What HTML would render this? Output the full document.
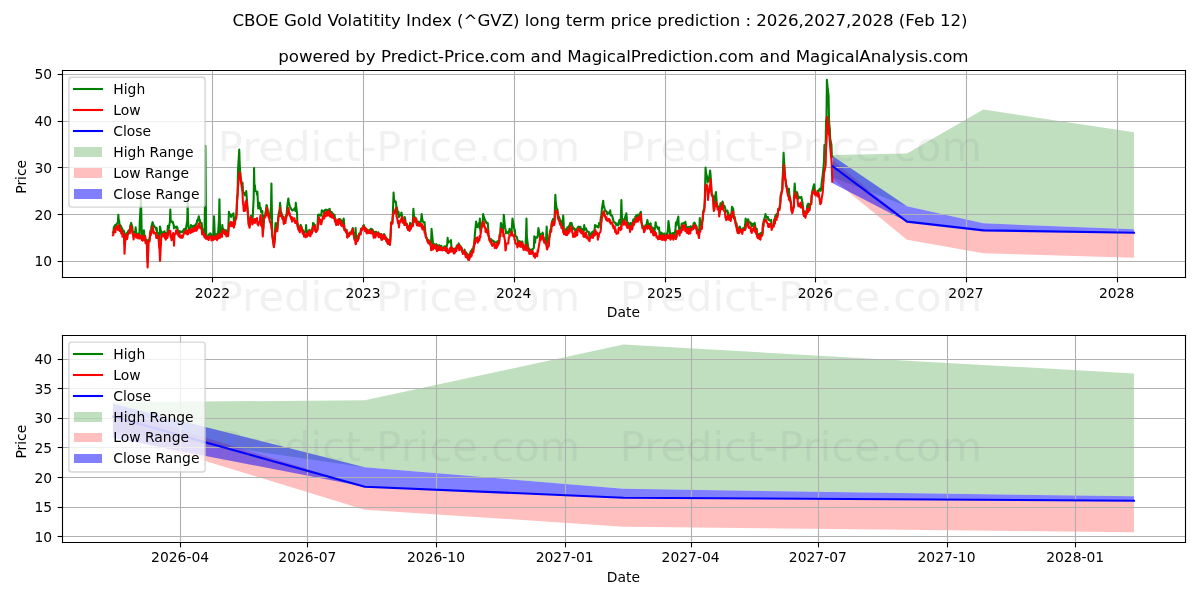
<!DOCTYPE html>
<html><head><meta charset="utf-8"><title>CBOE Gold Volatitity Index (^GVZ) long term price prediction</title>
<style>html,body{margin:0;padding:0;background:#fff;overflow:hidden}svg{display:block}text{font-family:"DejaVu Sans","Liberation Sans",sans-serif}</style>
</head><body>
<svg width="1200" height="600" viewBox="0 0 1200 600">
<defs>
<style type="text/css">*{stroke-linejoin: round; stroke-linecap: butt}</style>
</defs>
<g id="figure_1">
<g id="patch_1">
<path d="M0 600L1200 600L1200 0L0 0z" style="fill: #ffffff"/>
</g>
<g id="axes_1">
<g id="patch_2">
<path d="M62 277L1185 277L1185 70L62 70z" style="fill: #ffffff"/>
</g>
<g id="FillBetweenPolyCollection_1">
<path d="M832.69 154.95L832.69 177.6L906.97 206.28L983.32 223.37L1133.95 229.3L1133.95 132.31L1133.95 132.31L983.32 109.42L906.97 153.41L832.69 154.95z" clip-path="url(#p3a8a4bb195)" style="fill: #008000; fill-opacity: 0.25"/>
</g>
<g id="FillBetweenPolyCollection_2">
<path d="M832.69 160.33L832.69 179L906.97 239.81L983.32 253.26L1133.95 257.69L1133.95 232.71L1133.95 232.71L983.32 230.37L906.97 221.64L832.69 160.33z" clip-path="url(#p3a8a4bb195)" style="fill: #ff0000; fill-opacity: 0.25"/>
</g>
<g id="FillBetweenPolyCollection_3">
<path d="M832.69 156.12L832.69 183.21L906.97 221.64L983.32 230.37L1133.95 232.71L1133.95 229.3L1133.95 229.3L983.32 223.37L906.97 206.28L832.69 156.12z" clip-path="url(#p3a8a4bb195)" style="fill: #0000ff; fill-opacity: 0.5"/>
</g>
<g id="matplotlib.axis_1">
<g id="xtick_1">
<g id="line2d_1">
<path d="M212.5 277.5L212.5 70.5" clip-path="url(#p3a8a4bb195)" style="fill: none; stroke: #b0b0b0; stroke-width: 1.111111; stroke-linecap: square"/>
</g>
<g id="line2d_2">
<g>
<path d="M212.5 277.5L212.5 282.36" style="stroke: #000000; stroke-width: 1.111111"/>
</g>
</g>
<g id="text_1">
<text style="font-size: 13.888889px; font-family: 'DejaVu Sans', 'Liberation Sans', sans-serif; text-anchor: middle" x="212.41" y="297.61">2022</text>
</g>
</g>
<g id="xtick_2">
<g id="line2d_3">
<path d="M363.5 277.5L363.5 70.5" clip-path="url(#p3a8a4bb195)" style="fill: none; stroke: #b0b0b0; stroke-width: 1.111111; stroke-linecap: square"/>
</g>
<g id="line2d_4">
<g>
<path d="M363.5 277.5L363.5 282.36" style="stroke: #000000; stroke-width: 1.111111"/>
</g>
</g>
<g id="text_2">
<text style="font-size: 13.888889px; font-family: 'DejaVu Sans', 'Liberation Sans', sans-serif; text-anchor: middle" x="363.04" y="297.61">2023</text>
</g>
</g>
<g id="xtick_3">
<g id="line2d_5">
<path d="M514.5 277.5L514.5 70.5" clip-path="url(#p3a8a4bb195)" style="fill: none; stroke: #b0b0b0; stroke-width: 1.111111; stroke-linecap: square"/>
</g>
<g id="line2d_6">
<g>
<path d="M514.5 277.5L514.5 282.36" style="stroke: #000000; stroke-width: 1.111111"/>
</g>
</g>
<g id="text_3">
<text style="font-size: 13.888889px; font-family: 'DejaVu Sans', 'Liberation Sans', sans-serif; text-anchor: middle" x="513.68" y="297.61">2024</text>
</g>
</g>
<g id="xtick_4">
<g id="line2d_7">
<path d="M665.5 277.5L665.5 70.5" clip-path="url(#p3a8a4bb195)" style="fill: none; stroke: #b0b0b0; stroke-width: 1.111111; stroke-linecap: square"/>
</g>
<g id="line2d_8">
<g>
<path d="M665.5 277.5L665.5 282.36" style="stroke: #000000; stroke-width: 1.111111"/>
</g>
</g>
<g id="text_4">
<text style="font-size: 13.888889px; font-family: 'DejaVu Sans', 'Liberation Sans', sans-serif; text-anchor: middle" x="664.72" y="297.61">2025</text>
</g>
</g>
<g id="xtick_5">
<g id="line2d_9">
<path d="M815.5 277.5L815.5 70.5" clip-path="url(#p3a8a4bb195)" style="fill: none; stroke: #b0b0b0; stroke-width: 1.111111; stroke-linecap: square"/>
</g>
<g id="line2d_10">
<g>
<path d="M815.5 277.5L815.5 282.36" style="stroke: #000000; stroke-width: 1.111111"/>
</g>
</g>
<g id="text_5">
<text style="font-size: 13.888889px; font-family: 'DejaVu Sans', 'Liberation Sans', sans-serif; text-anchor: middle" x="815.35" y="297.61">2026</text>
</g>
</g>
<g id="xtick_6">
<g id="line2d_11">
<path d="M966.5 277.5L966.5 70.5" clip-path="url(#p3a8a4bb195)" style="fill: none; stroke: #b0b0b0; stroke-width: 1.111111; stroke-linecap: square"/>
</g>
<g id="line2d_12">
<g>
<path d="M966.5 277.5L966.5 282.36" style="stroke: #000000; stroke-width: 1.111111"/>
</g>
</g>
<g id="text_6">
<text style="font-size: 13.888889px; font-family: 'DejaVu Sans', 'Liberation Sans', sans-serif; text-anchor: middle" x="965.98" y="297.61">2027</text>
</g>
</g>
<g id="xtick_7">
<g id="line2d_13">
<path d="M1117.5 277.5L1117.5 70.5" clip-path="url(#p3a8a4bb195)" style="fill: none; stroke: #b0b0b0; stroke-width: 1.111111; stroke-linecap: square"/>
</g>
<g id="line2d_14">
<g>
<path d="M1117.5 277.5L1117.5 282.36" style="stroke: #000000; stroke-width: 1.111111"/>
</g>
</g>
<g id="text_7">
<text style="font-size: 13.888889px; font-family: 'DejaVu Sans', 'Liberation Sans', sans-serif; text-anchor: middle" x="1116.62" y="297.61">2028</text>
</g>
</g>
<g id="text_8">
<text style="font-size: 13.888889px; font-family: 'DejaVu Sans', 'Liberation Sans', sans-serif; text-anchor: middle" x="623.45" y="317.17">Date</text>
</g>
</g>
<g id="matplotlib.axis_2">
<g id="ytick_1">
<g id="line2d_15">
<path d="M62.5 261.5L1185.5 261.5" clip-path="url(#p3a8a4bb195)" style="fill: none; stroke: #b0b0b0; stroke-width: 1.111111; stroke-linecap: square"/>
</g>
<g id="line2d_16">
<g>
<path d="M62.5 261.5L57.64 261.5" style="stroke: #000000; stroke-width: 1.111111"/>
</g>
</g>
<g id="text_9">
<text style="font-size: 13.888889px; font-family: 'DejaVu Sans', 'Liberation Sans', sans-serif; text-anchor: end" x="52.18" y="266.23">10</text>
</g>
</g>
<g id="ytick_2">
<g id="line2d_17">
<path d="M62.5 214.5L1185.5 214.5" clip-path="url(#p3a8a4bb195)" style="fill: none; stroke: #b0b0b0; stroke-width: 1.111111; stroke-linecap: square"/>
</g>
<g id="line2d_18">
<g>
<path d="M62.5 214.5L57.64 214.5" style="stroke: #000000; stroke-width: 1.111111"/>
</g>
</g>
<g id="text_10">
<text style="font-size: 13.888889px; font-family: 'DejaVu Sans', 'Liberation Sans', sans-serif; text-anchor: end" x="52.18" y="219.53">20</text>
</g>
</g>
<g id="ytick_3">
<g id="line2d_19">
<path d="M62.5 167.5L1185.5 167.5" clip-path="url(#p3a8a4bb195)" style="fill: none; stroke: #b0b0b0; stroke-width: 1.111111; stroke-linecap: square"/>
</g>
<g id="line2d_20">
<g>
<path d="M62.5 167.5L57.64 167.5" style="stroke: #000000; stroke-width: 1.111111"/>
</g>
</g>
<g id="text_11">
<text style="font-size: 13.888889px; font-family: 'DejaVu Sans', 'Liberation Sans', sans-serif; text-anchor: end" x="52.18" y="172.83">30</text>
</g>
</g>
<g id="ytick_4">
<g id="line2d_21">
<path d="M62.5 121.5L1185.5 121.5" clip-path="url(#p3a8a4bb195)" style="fill: none; stroke: #b0b0b0; stroke-width: 1.111111; stroke-linecap: square"/>
</g>
<g id="line2d_22">
<g>
<path d="M62.5 121.5L57.64 121.5" style="stroke: #000000; stroke-width: 1.111111"/>
</g>
</g>
<g id="text_12">
<text style="font-size: 13.888889px; font-family: 'DejaVu Sans', 'Liberation Sans', sans-serif; text-anchor: end" x="52.18" y="126.13">40</text>
</g>
</g>
<g id="ytick_5">
<g id="line2d_23">
<path d="M62.5 74.5L1185.5 74.5" clip-path="url(#p3a8a4bb195)" style="fill: none; stroke: #b0b0b0; stroke-width: 1.111111; stroke-linecap: square"/>
</g>
<g id="line2d_24">
<g>
<path d="M62.5 74.5L57.64 74.5" style="stroke: #000000; stroke-width: 1.111111"/>
</g>
</g>
<g id="text_13">
<text style="font-size: 13.888889px; font-family: 'DejaVu Sans', 'Liberation Sans', sans-serif; text-anchor: end" x="52.18" y="79.43">50</text>
</g>
</g>
<g id="text_14">
<text style="font-size: 13.888889px; font-family: 'DejaVu Sans', 'Liberation Sans', sans-serif; text-anchor: middle" x="26" y="176.81" transform="rotate(-90 26 176.81)">Price</text>
</g>
</g>
<g id="line2d_25">
<path d="M112.95 232.68L113.37 232.83L113.78 227.58L115.02 225.15L115.43 228.16L115.84 225.4L116.25 227.48L116.67 223.75L117.9 222.58L118.32 214.77L118.73 219.97L119.14 220.8L119.56 224.56L120.79 225.81L121.21 227.37L121.62 227.5L122.03 228.27L122.44 230.81L123.68 230.59L124.1 231.08L124.51 243.46L124.92 245.1L125.33 235.64L126.57 233.21L126.98 236.32L127.4 235.44L127.81 232.27L128.22 230.98L129.46 229.76L129.87 231.97L130.29 225.32L130.7 225.76L131.11 222.92L132.35 227.07L132.76 233.15L133.17 233.38L133.59 236.72L134 232.06L135.24 231.43L135.65 227.37L136.48 236.06L136.89 233.37L138.13 235.95L138.54 235.52L138.95 233.25L139.36 235.9L139.78 221.59L141.02 199.2L141.84 238.99L142.25 235.52L142.67 235.35L143.9 230.34L144.32 234.81L144.73 238.07L145.14 235.89L145.56 241.5L146.79 239.97L147.62 262.39L148.03 253.54L148.44 240.34L149.68 238.52L150.09 233.15L150.51 230.43L150.92 233.31L151.33 227L152.57 222.18L153.4 224.82L153.81 225.45L154.22 226.27L155.46 227.76L155.87 227.54L156.29 230.04L156.7 228.11L157.11 232.8L158.35 233.25L158.76 238.41L159.17 245.94L159.59 239.38L160 226.63L161.65 234.09L162.06 232.24L162.48 233.72L162.89 232.25L164.13 232.56L164.54 231.3L164.95 235.63L165.36 232.79L165.78 236.79L167.02 234.8L167.43 231.93L167.84 225.89L168.25 230.44L168.67 229.42L169.9 221.61L170.32 209.58L170.73 222.07L171.14 221.82L171.55 221.11L172.79 221.79L173.21 223.67L173.62 224.41L174.03 228.33L174.44 226.4L175.68 227.27L176.09 226.92L176.51 228.14L176.92 226.63L177.33 227.44L178.57 234.98L178.98 231.18L179.4 233.24L179.81 231.08L180.22 231.92L181.46 232.17L181.87 231.53L182.28 232.1L182.7 231.68L183.11 230.79L184.35 228.85L184.76 229.99L185.17 229.29L185.59 231.95L186 228.09L187.24 220.36L187.65 202.17L188.06 220.21L188.48 227.03L188.89 230.89L190.13 227.45L190.54 228.76L190.95 225.15L191.36 226.05L191.78 225.84L193.01 227.25L193.43 225.81L193.84 226.37L194.25 225.87L194.67 225.89L195.9 224.12L196.32 224.1L196.73 223.21L197.14 220.19L197.55 221.65L198.79 216.25L199.21 219.24L199.62 219.5L200.44 222.74L201.68 222.92L202.09 228.71L202.51 228.91L203.33 231.59L204.57 236.01L204.98 198.1L205.4 145.83L205.81 200.37L206.22 233.91L207.46 237.1L207.87 237.29L208.28 236.95L208.7 237.48L209.11 234.25L210.35 233.3L211.17 234.63L211.59 239.41L212 235.53L213.24 238.36L214.06 216.25L214.89 238.02L216.13 234.26L216.54 235.6L216.95 237.85L217.36 233.61L217.78 237.12L219.01 219.68L219.43 199.2L219.84 221.39L220.25 234.81L220.66 232.7L221.9 231.03L222.32 225.15L222.73 229.04L223.14 228.82L223.55 229.22L224.79 232.24L225.2 230.29L225.62 233.5L226.03 230.21L226.44 234.15L227.68 232.99L228.09 234.56L228.92 211.81L229.33 213.96L230.57 214.3L230.98 216.9L231.39 215.16L231.81 215.63L232.22 214.79L233.46 213.29L233.87 220.85L234.28 223.3L234.7 223.45L235.11 219.4L236.35 215.44L236.76 204.68L237.17 197.72L237.59 193.64L238 170.87L239.24 149.54L239.65 162.13L240.06 170.7L240.89 179.08L242.12 185.97L242.54 182.9L242.95 190.69L243.36 192.24L243.78 192.95L245.01 195.34L245.43 192.92L245.84 195.12L246.25 191.05L248.73 223.72L249.14 223.43L249.55 226.27L250.79 215.78L251.2 219.25L251.62 217.74L252.03 218.65L252.44 222.6L253.68 198.01L254.09 168.07L254.51 191.23L254.92 185.33L255.33 190.55L256.57 191.35L256.98 194.6L257.39 191.79L258.22 208.46L259.46 202.75L259.87 208.8L260.28 207.45L260.7 207.75L261.11 212.24L262.35 211.06L262.76 225.32L263.17 229.39L263.58 223.71L264 216.15L265.24 216.14L265.65 211.91L266.06 210.39L266.47 205.13L266.89 205.72L268.12 212.71L268.54 216.18L268.95 213.67L269.36 217.91L269.78 218.68L271.01 206.97L271.43 183.64L272.25 234.44L273.9 246L274.73 238.6L275.14 228.08L275.55 222.92L276.79 224.76L277.2 229.78L277.62 225.72L278.44 215.32L279.68 209.33L280.09 202.91L280.51 208.19L280.92 215.34L281.33 212.48L282.57 217.06L282.98 217.07L283.39 216.71L283.81 223.1L284.22 220.5L285.46 220.95L285.87 215.74L286.28 216.31L286.7 213.46L287.11 207.48L288.35 198.46L288.76 201.97L289.17 204.08L290 206.64L291.24 208.91L291.65 209.93L292.06 210.32L292.47 210.47L294.12 209.1L294.54 208.35L294.95 209.26L295.36 210.95L295.77 202.91L297.01 212.88L297.43 224.78L297.84 223.75L298.25 227.85L298.66 227.81L299.9 230.98L300.31 225.37L300.73 224.77L301.14 227.3L301.55 226.68L302.79 231.88L303.2 230.22L303.62 231.53L304.03 235.46L304.44 232.56L305.68 231.68L306.09 225.15L306.5 231.03L306.92 231.7L307.33 235.19L308.57 230.9L308.98 234.3L309.39 229.87L309.81 230.15L310.22 234.77L311.46 230.88L311.87 232.97L312.28 228.06L312.7 227.33L313.11 222.92L314.35 224.9L314.76 224.61L315.17 229.91L315.58 229.82L316 231.58L317.23 229.48L317.65 223.25L318.06 214.77L318.47 216.23L318.89 214.6L320.12 215L320.54 214.86L320.95 215.79L321.36 215.17L321.77 210.32L323.43 211.71L323.84 211L324.25 213.24L324.66 210.2L325.9 209.58L326.31 211.05L326.73 209.99L327.14 209.91L327.55 210.66L328.79 210.9L329.2 209.26L329.62 208.84L330.44 212.3L331.68 212.06L332.09 212.88L332.5 214.36L332.92 213.55L333.33 214.59L334.57 214.77L334.98 218.57L335.39 218.55L335.81 222.57L336.22 224.3L337.46 222.73L337.87 219.78L338.28 224.49L338.69 220.95L339.11 218.94L340.35 219.22L340.76 220.05L341.17 224.9L341.58 220.63L342 225.55L343.23 221.99L343.65 218.48L344.06 222.41L344.47 229.44L344.88 228.86L346.12 232.15L346.54 229.79L346.95 232.75L347.36 237.18L347.77 233.85L349.01 235.37L349.42 232.53L349.84 233.87L350.25 233.62L350.66 233.9L351.9 230.07L352.31 229.6L352.73 228.07L353.14 231.89L353.55 233.96L354.79 239.59L355.2 235.04L355.61 228.11L356.03 237.21L356.44 239.51L357.68 240.28L358.09 235.73L358.5 238.1L358.92 234.08L359.33 233.4L360.57 233.95L360.98 228.86L361.39 230.61L361.81 228.4L362.22 229.22L363.46 225.47L363.87 225.15L364.28 227.4L364.69 227.11L365.11 230.87L366.34 228.6L366.76 232.87L367.17 229.82L367.58 232.51L368 230.26L369.23 232.39L369.65 229.81L370.06 231.22L370.47 230.63L370.88 228.85L372.12 229.31L372.54 230.91L372.95 230.22L373.36 232.39L373.77 233L375.01 231.84L375.42 233.86L375.84 231.82L376.25 231.83L376.66 234.57L377.9 233.24L378.31 232.32L378.73 236.56L379.14 233.69L379.55 233.89L380.79 237.37L381.2 233.94L381.61 239.1L382.03 235.96L382.44 239.2L383.68 234.34L384.09 234.04L384.5 234.63L384.92 238.21L385.33 236.43L386.57 241.31L386.98 238.52L387.39 239.77L387.8 243.49L388.22 239.78L389.46 240.47L389.87 244.63L390.28 240.05L390.69 233.81L391.11 222.28L392.34 222.95L392.76 216.21L393.58 192.53L394 199.13L395.23 202.15L395.65 201.47L396.06 203.16L396.47 209.37L396.88 207.36L398.12 214.6L398.53 211.79L398.95 217.09L399.36 214.61L399.77 215.91L401.01 214.46L401.42 212.55L402.25 216.48L402.66 222.23L403.9 220.44L404.31 221.31L404.73 216.99L405.14 218.43L405.55 224.21L406.79 223.7L407.2 227.24L407.61 225.29L408.03 229.51L408.44 229.15L409.68 227.25L410.09 222.92L410.92 228.22L411.33 223.83L412.57 225.67L412.98 218.33L413.39 208.84L413.8 213.58L414.22 220.91L415.46 217.53L415.87 221.08L416.28 218.6L416.69 223.76L417.11 224.42L418.34 221.59L418.76 224.92L419.17 222.39L419.58 225.33L419.99 223.66L421.23 219.41L421.65 214.03L422.47 220.15L422.88 221.63L424.12 222.85L424.53 222.18L425.36 232.74L425.77 235.92L427.01 238.14L427.42 240.26L427.84 240.16L428.25 242.02L428.66 239.99L429.9 243.44L430.31 241.72L430.72 243.48L431.14 241.1L431.55 228.85L432.79 240.77L433.2 248.48L433.61 243.92L434.03 244L434.44 244.42L436.09 245.39L436.5 244.15L436.92 246.03L437.33 245.32L438.57 246.83L438.98 245.23L439.39 245.16L439.8 245.53L440.22 247.88L441.45 245.9L442.28 249.4L442.69 249.24L443.11 248.72L444.34 246.38L444.76 249.16L445.17 247.37L445.58 246.27L445.99 250.47L447.23 243.68L447.65 237.75L448.06 242.92L448.47 241.11L448.88 242.19L450.12 241.35L450.53 241.81L450.95 239.97L451.36 246.31L451.77 247.25L453.01 250.71L453.42 248.87L453.84 252.56L454.25 248.64L454.66 252.31L455.9 247.99L456.31 249.83L456.72 245.98L457.14 245.23L457.55 246.56L458.79 243.4L459.2 248.88L459.61 245.11L460.03 248.46L460.44 246.15L461.68 247.89L462.09 251.1L462.5 250.78L462.91 252.9L463.33 252.6L464.57 249.66L464.98 253.7L465.39 251.72L465.8 256.32L466.22 252.51L467.45 256.79L467.87 254.38L468.28 259.23L468.69 255.95L469.1 258.62L470.34 252.3L470.76 251.09L471.17 251.37L471.58 254.5L471.99 249.31L473.23 251.24L473.64 246.04L474.06 245.69L474.88 234.33L476.12 221.44L476.53 224.97L476.95 226.95L477.36 227.07L477.77 226.18L479.01 222.82L479.42 227.93L479.83 218.48L480.25 229.24L480.66 232.08L481.9 223.64L482.31 222.65L482.72 220.71L483.14 214.03L483.55 216.16L485.2 220.46L485.61 222.28L486.03 221.44L486.44 223.14L487.68 222.92L488.09 226.78L488.5 235.57L488.91 235.47L489.33 239.09L490.56 240.82L490.98 239.05L491.39 241.81L491.8 239.97L492.22 241.06L493.45 240.89L493.87 241.5L494.28 241.43L494.69 242.84L495.1 242.46L496.34 242.2L496.76 242.69L497.17 245.04L497.58 241.17L497.99 244L499.23 240.95L499.64 234.46L500.06 233.83L500.47 230.28L500.88 222.92L502.12 226.84L502.53 230.39L502.95 229.32L503.36 226.97L503.77 214.77L505.01 227.2L505.42 228.73L505.83 233.41L506.25 231.52L506.66 231.82L508.31 233.68L508.72 231.17L509.14 232.55L509.55 228.85L510.79 232.04L511.2 231.48L511.61 230.33L512.02 225.84L512.44 218.48L514.09 227.57L514.5 231.15L514.91 230.31L515.33 235.8L516.56 236.6L516.98 237.73L517.39 239.23L517.8 241.21L518.22 244.84L519.45 241.17L519.87 245.18L520.28 244.89L520.69 241.59L521.1 244.5L522.34 241.57L522.75 244.73L523.17 245.25L523.58 248.27L523.99 246.54L525.23 247.87L525.64 243.61L526.06 234.26L526.47 218.48L526.88 236.86L528.53 250.31L528.95 248.23L529.36 252.75L529.77 250.61L531.01 249.61L531.42 249.5L531.83 252.64L532.25 250.54L532.66 249.33L533.9 247.54L534.31 236.27L534.72 241.19L535.14 242.67L535.55 237.2L536.79 237.32L537.2 237.73L537.61 237.05L538.44 228.11L539.68 235.11L540.09 236.75L540.5 239.09L540.91 234.11L541.33 235.65L542.56 232.56L542.98 233.51L543.39 238.64L543.8 237.5L544.21 241.32L545.45 239.49L545.87 243.62L546.69 226.63L547.1 239.39L548.34 243.97L548.75 244.15L549.17 238.19L549.58 235.75L549.99 231.38L551.23 227.44L551.64 223.67L552.06 221.16L552.47 224.79L552.88 219.07L554.12 223.48L554.53 221.42L554.94 205.8L555.36 194.76L555.77 202.79L557.01 210.14L557.42 209.12L557.83 214.43L558.25 217.02L558.66 216.22L559.9 219.5L560.31 222.8L560.72 220.84L561.14 222.56L561.55 226.7L562.79 220.95L563.2 215.51L563.61 222.04L564.02 232.01L564.44 229.84L565.67 232.39L566.09 229.29L566.5 228.64L566.91 230.7L567.33 227.37L568.56 227.99L568.98 226.05L569.39 225.39L569.8 225.9L570.21 223.12L571.45 222.92L571.87 224.18L572.28 226.32L572.69 226.65L573.1 228.95L574.34 228.39L574.75 230.01L575.17 229.42L575.58 230.34L575.99 229.21L577.23 232.41L577.64 227.24L578.06 227.78L578.47 226.51L578.88 226.63L580.12 228.21L580.53 226.94L580.94 231.06L581.36 230.57L581.77 228.96L583.01 229.74L583.42 233.42L584.25 225.15L584.66 229.71L585.9 228.3L586.31 229.96L586.72 230.2L587.13 231.53L587.55 231.8L588.79 231.82L589.2 235.19L589.61 237.61L590.02 234.87L591.67 232.56L592.09 234.06L592.5 231.86L592.91 236.46L593.32 231.95L594.56 230.03L594.98 225.15L595.39 225.3L595.8 226.84L596.21 225.66L597.45 226.6L597.86 227.19L598.28 227.5L598.69 227.24L599.1 222.92L600.34 222.82L600.75 217.84L601.17 215.7L601.58 212.6L601.99 208.15L603.23 200.69L603.64 206.85L604.05 206.31L604.88 210.15L606.12 211.06L606.53 211.74L606.94 213.47L607.36 214.29L607.77 212.41L609.01 213.03L609.42 212.38L609.83 213.3L610.25 210.32L610.66 215.34L611.9 215.36L612.31 216.34L613.55 221.61L614.78 222.34L615.2 222.92L615.61 224.33L616.02 223.27L616.44 225.28L617.67 224.47L618.09 225.26L618.5 222.79L618.91 222.01L619.32 219.96L620.56 224.64L620.98 214.55L621.39 199.95L621.8 213.11L622.21 222.37L623.45 219.24L623.86 223.25L624.28 219.31L624.69 220.9L625.1 217.33L626.34 213.29L626.75 217.47L627.17 224.5L627.58 225.53L627.99 222.49L629.23 226.15L629.64 223.67L630.05 230.57L630.47 224.77L630.88 222.92L632.12 225.42L632.53 225.69L632.94 221.28L633.36 219.37L633.77 223.92L635.01 219.68L635.42 216.48L635.83 218.48L636.24 215.26L636.66 215.3L637.9 219.78L638.31 214.44L638.72 218.46L639.13 217.57L639.55 214.99L640.78 211.7L641.61 221.92L642.44 225.4L643.67 227.53L644.09 230.68L644.5 227.24L644.91 229.42L645.32 225.47L646.56 224.71L646.97 221.84L647.39 219.96L647.8 222.18L648.21 225.22L649.45 224.15L649.86 226.32L650.28 226.38L650.69 223.36L651.1 228.96L652.34 227.36L652.75 227.66L653.17 231.35L653.99 233.21L655.23 226.71L655.64 222.18L656.05 224.5L656.47 226.04L656.88 226.65L658.12 228.93L658.53 228.01L658.94 227.37L659.36 231L659.77 237.34L661.01 232.6L661.42 238.21L661.83 233.31L662.24 236.56L662.66 233.42L663.9 236.42L664.31 233.51L664.72 238.1L665.13 235.68L665.55 238.61L666.78 233.41L667.2 236.08L668.02 228.27L668.43 221L670.5 236.74L670.91 233.8L671.32 233.6L672.56 233.13L672.97 233.93L673.39 238.3L673.8 232.92L674.21 236.02L675.45 229.71L675.86 222.48L676.28 225.64L676.69 223.92L677.1 221.54L678.34 216.55L678.75 225.45L679.58 232.54L679.99 227.89L681.23 227.73L681.64 223.96L682.47 223.39L682.88 223.76L684.53 222.51L684.94 223.3L685.36 221.74L685.77 224.85L687.01 230.11L687.42 227.48L687.83 231.22L688.24 226.86L688.66 232.16L689.89 226.72L690.31 229.63L690.72 226.33L691.13 227.9L691.55 227.71L692.78 226.15L693.2 227.53L693.61 223.35L694.02 225.27L694.43 222.48L695.67 225.19L696.09 227.49L696.5 226.2L696.91 231L697.32 229.58L698.56 232.68L698.97 236.79L699.8 218.03L700.21 225.16L701.45 224.66L701.86 226.58L702.28 220.09L702.69 219.12L703.1 211.77L704.34 207.7L704.75 201.35L705.58 167.63L705.99 173.15L707.23 176.99L707.64 182.43L708.05 179.49L708.47 181L708.88 180.89L710.12 170.59L710.53 174.63L710.94 180.69L711.35 188.71L711.77 194.17L713.01 195.96L713.42 201.55L713.83 208.82L714.24 208.99L714.66 198.82L715.89 192.09L716.31 196.87L716.72 203.57L717.13 204.49L717.54 207.22L718.78 206.74L719.2 214.89L719.61 210.04L720.02 207.58L720.43 203.21L721.67 203.32L722.08 204.01L722.5 201.62L722.91 202.47L723.32 205.31L724.56 206.09L724.97 207.08L725.8 211.22L726.21 211.52L727.45 210.62L727.86 214.78L728.27 212.48L728.69 217.67L729.1 214.76L730.34 216.66L730.75 218.92L731.16 214L731.58 212.17L731.99 206.91L733.23 208.78L733.64 216.52L734.05 217.29L734.47 216.44L734.88 217.89L736.12 225.55L736.53 223.35L736.94 229.04L737.35 227.83L737.77 232.09L739 231.66L739.42 226.79L739.83 226.63L740.66 229.04L741.89 229.61L742.31 232.09L742.72 229.45L743.54 227.78L744.78 228.25L745.2 224.23L745.61 218.48L746.43 225.25L747.67 219.95L748.08 219.22L748.5 220.21L748.91 222.45L749.32 222.77L750.56 222.4L750.97 224.39L751.8 226.48L752.21 223.67L753.45 225.63L753.86 224.3L754.27 223.43L754.69 222.92L755.1 225.67L756.34 233.05L756.75 228.76L757.16 235.77L757.58 235.89L757.99 236.46L759.23 233.78L759.64 238.11L760.05 236L760.46 237.21L760.88 233.1L762.12 234.89L762.53 232.33L762.94 223.82L763.35 225.71L763.77 220.19L765 217.2L765.42 214.03L766.24 216.8L766.66 217.64L767.89 216.99L768.31 219.67L768.72 219.13L769.54 220.48L770.78 220.66L771.19 219.96L771.61 225.22L772.02 227.79L772.43 226.03L773.67 225.79L774.08 220.63L774.5 219.02L774.91 223.04L775.32 215.74L776.56 214.03L776.97 214.53L777.39 215.87L777.8 213.46L778.21 208.68L779.45 208.77L779.86 205.14L780.27 203.38L780.69 195.12L781.1 193.94L782.34 188.67L783.58 152.86L785.23 179.23L785.64 179.32L786.05 185.59L786.46 185.09L786.88 188.01L788.12 194.44L788.53 191.98L788.94 188.67L789.35 194.97L789.77 196.2L791 203.18L791.42 209.27L791.83 207.99L792.24 212.16L792.65 209.96L793.89 205.96L794.31 190L794.72 183.44L795.13 190.88L795.54 191.43L796.78 195.14L797.19 192.4L797.61 194.89L798.02 195.92L798.43 198.63L799.67 197.21L800.08 197.72L800.5 197.96L800.91 197.64L801.32 196.87L802.56 202.97L802.97 206.92L803.38 212.38L803.8 214.57L804.21 211.18L805.45 216.67L805.86 211.31L806.69 213.37L807.1 206.01L808.34 203.59L809.16 208.46L809.58 209.24L809.99 203.96L811.23 203.31L811.64 195.35L812.05 194.45L812.46 190.69L812.88 188.8L814.11 184.19L814.53 186.8L814.94 193.41L815.35 193.13L815.77 193.91L817 193.93L817.42 190.85L817.83 195.58L818.24 191.33L819.89 188.67L820.3 190.62L820.72 190.81L821.13 189.5L821.54 183.77L822.78 174.49L823.19 170.02L823.61 166.84L824.02 159.53L824.43 145.1L825.67 144.79L826.08 120.33L826.5 116.51L826.91 79.72L827.32 84.97L828.56 95.42L828.97 118.12L829.38 125.97L829.8 128.24L830.21 138.82L831.45 144.65L831.86 156.07L832.27 156.59L832.27 156.59" clip-path="url(#p3a8a4bb195)" style="fill: none; stroke: #008000; stroke-width: 2.083333; stroke-linecap: square"/>
</g>
<g id="line2d_26">
<path d="M112.95 235.21L113.37 234.81L113.78 231.29L115.02 228.47L115.43 232.25L115.84 227.2L116.25 229.05L116.67 226.5L117.9 229.88L118.32 225.22L118.73 228.98L119.14 225.37L119.56 230.91L120.79 229.11L121.21 233.48L121.62 230.39L122.03 231.31L122.44 236.75L123.68 233.62L124.1 237.64L124.51 253.79L125.33 238.54L126.57 234.91L126.98 239.26L127.4 237.17L127.81 233.82L128.22 234.07L129.46 230.98L129.87 233.29L130.29 227.6L130.7 229.71L131.11 225.94L132.76 234.21L133.17 234.54L133.59 239.38L134 234.72L135.24 236.18L135.65 233.96L136.06 236.9L136.48 237.65L136.89 234.59L138.13 238.38L138.54 237.96L138.95 234.4L139.36 238.09L139.78 238.56L141.02 236.06L141.43 235.72L141.84 240.03L142.25 237.02L142.67 240.72L143.9 235.59L144.32 239.82L144.73 240.04L145.14 237.2L145.56 243.19L146.79 241.44L147.62 267.5L148.03 256.45L148.44 242.15L149.68 241.16L150.09 234.55L150.51 232.15L150.92 235.09L151.33 232.23L152.57 226.78L152.98 228.06L153.4 232.84L153.81 231.39L154.22 233.55L155.46 232.84L155.87 233.85L156.29 237.98L156.7 234.55L157.11 237.93L158.35 235.95L158.76 239.72L159.17 247.75L159.59 249.88L160 260.86L161.24 238.18L161.65 235.38L162.06 234.21L162.48 236.23L162.89 234.03L164.13 236.71L164.54 233.64L164.95 238.12L165.36 234.09L165.78 239.66L167.02 236.56L167.43 237.95L167.84 233.07L168.25 235.45L168.67 230.52L169.9 231.6L170.32 230.9L170.73 237.53L171.14 235.76L171.55 240.27L172.79 234.29L173.21 233.06L173.62 235.95L174.03 245.65L174.44 235.18L175.68 233.04L176.09 230.19L176.51 232.54L176.92 233.73L177.33 230.34L178.57 236.13L178.98 233.85L179.4 236.64L179.81 234.54L180.22 237.51L181.46 237.74L181.87 235.64L182.28 237.72L182.7 237.25L184.35 232.02L184.76 232.8L185.17 231.93L185.59 233.37L186 230.55L187.24 234.43L187.65 230.75L188.06 234.17L188.48 229.89L188.89 231.92L190.13 229.7L190.54 233.09L190.95 229.92L191.36 232.08L191.78 229.35L193.01 231.86L193.43 228.21L193.84 230.34L194.25 228.13L194.67 230.9L195.9 226.6L196.32 230.75L196.73 230.45L197.14 225.9L197.55 229L198.79 223.81L199.21 225.4L199.62 222.99L200.03 227.77L200.44 228.31L201.68 228.63L202.09 234.47L202.51 231.14L202.92 231.82L203.33 232.75L204.57 237.46L204.98 234.85L205.4 235.39L205.81 238.62L206.22 236.28L207.46 239.24L207.87 238.32L208.7 239.89L209.11 236.77L210.35 237.7L210.76 236.24L211.17 236.51L211.59 240.52L212 237.44L213.24 239.8L213.65 236.24L214.06 238.9L214.47 236.45L214.89 239.16L216.13 236.62L216.95 240.13L217.36 235.28L217.78 238.87L219.43 233.85L219.84 238.04L220.25 237.33L220.66 234.53L221.9 236.8L222.32 231.34L222.73 233.48L223.14 229.81L223.55 231.25L224.79 234.14L225.2 231.22L225.62 234.67L226.03 232.84L226.44 236.37L227.68 234.31L228.09 236.15L228.92 226.5L230.57 221.92L230.98 226.24L231.81 222.34L232.22 225.96L233.46 222.31L233.87 227.67L234.28 225.18L234.7 225.09L235.11 221.25L236.35 217.81L236.76 211.08L237.17 200.31L237.59 195.69L238 186.84L239.24 174.57L239.65 172.27L240.06 172.93L240.47 177.84L240.89 180.42L242.54 192.78L242.95 203.41L243.36 205L243.78 211.08L245.01 210.82L245.43 201.99L245.84 205.52L246.25 200.4L246.66 201.56L247.9 214.15L248.73 225.33L249.14 225.59L249.55 227.77L250.79 217.08L251.2 221.05L251.62 218.78L252.03 220.28L252.44 224.55L253.68 219.64L254.09 222.42L254.51 219.07L254.92 222.86L255.33 219.08L256.57 220.47L256.98 218.12L257.39 223.95L257.81 221.6L258.22 225.47L259.46 221.78L259.87 222.45L260.28 216.42L260.7 215.17L261.11 225.37L262.35 227.61L262.76 236.44L263.58 225.22L264 217.43L265.24 217.41L265.65 213.26L266.06 215.49L266.47 209.97L266.89 207.71L268.12 214.05L268.54 217.12L268.95 214.57L269.36 219.27L269.78 221L271.01 224.1L271.43 228.73L271.84 228.68L272.25 235.99L272.66 238.27L273.9 247.13L274.73 239.89L275.14 233.07L275.55 232.05L276.79 227.51L277.2 231.28L278.44 217.27L279.68 215.14L280.09 207.76L280.51 213.23L280.92 216.19L281.33 214.52L282.57 219.25L282.98 217.88L283.39 218.04L283.81 223.89L284.22 222.22L285.46 222.91L285.87 216.62L286.28 218.12L286.7 214.98L287.11 214.97L288.35 208.12L288.76 209.08L289.17 214.52L289.58 213.03L290 215.68L291.24 219.19L291.65 216.91L292.06 221.56L292.47 217.53L292.89 220.4L294.12 219.43L294.54 218.25L294.95 222.61L295.36 222.85L295.77 221.09L297.01 220.95L297.43 226.49L297.84 225.64L298.25 229.56L298.66 229.71L299.9 232.29L300.31 227.19L300.73 226.47L301.14 227.99L301.55 228.07L302.79 233.73L303.2 231.45L303.62 232.65L304.03 236.57L304.44 234.23L305.68 237.28L306.09 234.25L306.5 236.16L306.92 233.48L307.33 236.51L308.57 231.51L308.98 234.99L309.39 230.78L309.81 231.53L310.22 236.33L311.46 232.23L311.87 233.61L312.28 229.3L312.7 231.3L313.11 226.5L314.35 227.21L314.76 225.61L315.17 230.82L315.58 230.63L316 232.07L317.23 230.18L317.65 229.81L318.06 222.91L318.47 224.57L318.89 217.38L320.12 221.42L320.54 219.96L320.95 224.2L321.36 224.04L323.01 216.15L323.43 218.66L323.84 214.36L324.25 218.45L324.66 212.52L325.9 216.19L326.31 215.39L326.73 212.58L327.14 211.6L327.55 215.38L328.79 214.48L329.2 210.59L329.62 216.07L330.03 212.67L330.44 216.82L331.68 214.58L332.09 217.75L332.5 217.74L332.92 214.76L333.33 217.58L334.57 219.19L334.98 221.67L335.39 219.29L335.81 223.06L336.22 225.1L337.46 223.29L337.87 220.07L338.28 224.78L339.11 219.4L340.35 223.1L340.76 221.17L341.17 225.36L341.58 221.44L342 225.84L343.23 224.9L343.65 227.97L344.06 225.58L344.47 230.19L344.88 229.65L346.12 232.53L346.54 230.47L346.95 233.11L347.36 237.58L347.77 234.26L349.01 236.2L349.42 233.31L349.84 234.57L350.25 234.01L350.66 234.25L351.9 230.95L352.31 232.99L352.73 228.81L353.14 232.55L354.79 240.18L355.2 240.21L355.61 244.14L356.03 243.83L356.44 240.03L357.68 240.98L358.09 236.34L358.5 238.85L358.92 234.77L359.33 234.02L360.57 234.64L360.98 229.27L361.39 230.99L361.81 228.74L362.22 229.74L363.46 226.24L363.87 226.81L364.28 229.46L364.69 227.52L365.11 231.18L366.34 229.13L366.76 233.36L367.17 230.12L367.58 233.05L368 230.8L369.23 233.17L369.65 230.45L370.06 231.63L370.47 232.37L370.88 233.36L372.12 230.17L372.54 234.01L372.95 232.2L373.36 235.61L373.77 237.69L375.01 234.43L375.42 237.57L375.84 234.43L376.25 232.41L376.66 235.38L378.31 233.09L378.73 237.26L379.14 234.28L379.55 234.58L380.79 237.81L381.2 234.25L381.61 239.84L382.03 236.47L382.44 239.5L383.68 235.1L384.09 237.19L384.5 235.57L384.92 238.93L385.33 236.82L386.57 241.6L386.98 239.31L387.39 240.32L387.8 243.9L388.22 240.13L389.46 241.22L389.87 244.96L390.28 240.8L390.69 234.49L391.11 222.68L392.34 223.75L392.76 217.03L393.17 214.08L393.58 212.5L394 213.26L396.06 207.81L396.47 216.4L396.88 216.9L398.12 223.55L398.53 221.09L398.95 227.36L399.36 221.81L399.77 222.91L401.01 219.37L401.42 220.43L401.84 216.75L402.25 217.19L402.66 222.6L403.9 220.86L404.31 224.86L404.73 220.89L405.14 220.07L405.55 224.92L406.79 224.19L407.2 228.08L407.61 225.84L408.03 230.01L408.44 229.85L409.68 230.85L410.09 226.13L410.5 228.56L410.92 228.79L411.33 224.27L412.57 226.4L412.98 225.38L413.8 217.48L414.22 221.78L415.46 218.58L415.87 221.82L416.28 219.51L416.69 224.48L417.11 225.44L418.34 222.37L418.76 225.65L419.17 223.49L419.58 226.07L419.99 224.3L421.23 223.79L421.65 227.76L422.06 224.2L422.47 229.51L422.88 226L424.12 227.15L424.53 232.68L424.95 232.44L425.36 233.65L425.77 236.94L427.01 239.4L427.42 241.31L427.84 240.6L428.25 243.13L428.66 241.09L429.9 244.68L430.31 242.38L430.72 244.62L431.14 250.13L431.55 245.33L432.79 249.6L433.2 249.14L433.61 244.76L434.03 244.96L434.44 247.27L435.68 248.69L436.09 248.59L436.5 245.36L436.92 251.1L437.33 247.8L438.57 250.14L438.98 246.5L439.39 249.52L439.8 246.72L440.22 250.14L441.45 247.59L441.87 250.13L442.28 250.05L442.69 250.37L443.11 249.49L444.34 247.43L444.76 249.96L445.17 248.05L445.58 247.32L445.99 251.3L447.23 248.6L447.65 252.98L448.06 250.92L448.47 253.15L448.88 253.11L450.12 248.06L450.53 251.7L450.95 247.4L451.36 251.52L451.77 247.82L453.01 251.29L453.42 249.43L453.84 253.54L454.25 249.39L454.66 253.28L455.9 249.01L456.31 251.18L456.72 247.05L457.14 245.78L457.55 248.01L458.79 244.73L459.2 250.19L459.61 246.44L460.03 249.7L460.44 246.87L461.68 248.66L462.09 251.97L462.5 251.54L462.91 254.01L463.33 253.41L464.57 250.96L464.98 254.27L465.39 252.94L465.8 257.09L466.22 253.91L467.45 258.26L467.87 255.5L468.28 259.8L468.69 256.55L469.1 259.95L470.34 254.17L470.76 256.77L471.17 252.78L471.58 255.91L471.99 250.92L473.23 252.46L473.64 246.97L474.06 246.8L474.47 241.3L474.88 244.01L476.12 238.11L476.53 238.51L476.95 241L477.36 237.35L477.77 242.77L479.01 239.03L479.42 240.4L479.83 235.71L480.25 237.53L480.66 233.51L481.9 225.02L482.31 223.3L482.72 226.29L483.14 221.63L483.55 221.62L484.79 227.43L485.2 227.1L485.61 231.89L486.03 228.49L486.44 230.25L487.68 233.87L488.09 230.49L488.5 236.57L488.91 236.39L489.33 240.1L490.56 242.22L490.98 240.34L491.39 244.19L491.8 243.7L492.22 245.87L493.45 243.08L494.28 243.6L494.69 247.94L495.1 244.62L496.34 248.18L496.76 244.21L497.17 246.8L497.58 242.78L497.99 245.25L499.23 242.38L499.64 236.01L500.06 235.55L500.47 236.38L500.88 228.59L502.12 230.66L502.53 231.98L502.95 230.05L503.36 236.32L503.77 233.99L505.01 240.86L505.42 250.37L505.83 249.97L506.25 244.3L506.66 243.55L507.9 243.14L508.31 243.49L508.72 237.97L509.14 237.73L509.55 235.2L510.79 235.41L511.2 232.67L511.61 231.81L512.02 232.01L512.44 235.04L513.68 236.37L514.09 235.09L514.5 239.7L514.91 239.55L515.33 242.94L516.56 244.68L516.98 243.56L517.39 247.42L517.8 243.8L518.22 245.62L519.45 241.94L519.87 246.43L520.28 246.71L520.69 242.27L521.1 246.83L522.34 243.27L522.75 247.22L523.17 246.59L523.58 249.9L523.99 247.55L525.23 249.81L525.64 244.77L526.06 246.1L526.47 244.77L526.88 250.43L528.12 248.19L528.53 251.32L528.95 250.01L529.36 253.92L529.77 252.6L531.01 253.91L531.42 250.77L531.83 253.49L532.25 251.6L532.66 251.33L533.9 256.42L534.31 253.85L535.14 257.81L535.55 253.24L536.79 253.81L537.2 256.17L537.61 250.4L538.02 251.94L538.44 248.88L539.68 241.16L540.09 237.54L540.5 240.48L540.91 235.93L541.33 239.09L542.56 236.89L542.98 235.54L543.39 240.33L543.8 238.5L544.21 242.65L545.45 240.77L545.87 244.46L546.28 243.66L546.69 247.77L547.1 249.44L548.34 245.57L548.75 246.37L549.17 239.78L549.99 232.83L551.23 231.76L551.64 225.37L552.06 222.43L552.47 225.93L552.88 221.53L554.12 225L554.53 222.71L554.94 215.2L555.77 210.23L557.01 212.9L557.42 211.6L557.83 217.35L558.25 219.28L558.66 219.02L560.31 224.9L560.72 223.51L561.14 225.22L561.55 228.22L562.79 226.91L563.2 232.33L563.61 228.72L564.02 234.22L564.44 231.88L565.67 234.82L566.09 230.86L566.5 231.25L566.91 235.25L567.33 231.66L568.56 233.48L568.98 228.75L569.39 228.91L569.8 231.63L570.21 226.11L571.45 228.49L571.87 228L572.28 232.64L572.69 232.91L573.1 236.98L574.34 233.69L574.75 236.76L575.17 231.9L575.58 236.38L575.99 232.63L577.23 235.16L577.64 229.07L578.06 228.95L578.47 229.6L578.88 228.56L580.12 231.59L580.53 229.84L580.94 232.46L581.36 233.47L581.77 231.34L583.01 231.59L583.42 236.46L583.83 233.33L584.25 237.03L584.66 236.72L585.9 232.62L586.31 237.73L586.72 235.06L587.13 238.32L587.55 236.76L588.79 240.47L589.2 239.77L589.61 241.07L590.02 237.4L590.44 237.74L591.67 235.21L592.09 237.39L592.5 233.98L592.91 237.92L593.32 233.56L594.56 235.62L594.98 233.88L595.39 229.96L595.8 234.12L596.21 231.82L597.45 233.32L597.86 239.61L598.28 235.22L598.69 237.02L599.1 233.63L600.34 232.12L600.75 230.38L601.17 222.82L601.58 221.78L601.99 216.91L603.23 212.05L603.64 214.8L604.05 211.33L604.47 216.34L604.88 214.99L606.12 219.7L606.53 217.29L606.94 220.34L607.36 220.93L607.77 220.24L609.01 218.79L609.42 221.41L609.83 222.48L610.25 220.39L610.66 223.73L612.31 222.5L612.72 226.11L613.13 225.49L613.55 228.45L614.78 226.55L615.2 232.07L615.61 229.4L616.44 233.84L617.67 232.86L618.09 233.49L618.5 228.57L618.91 227.54L619.32 228.31L620.56 230.09L620.98 226.63L621.39 229.09L621.8 224.22L622.21 224.75L623.45 220.58L623.86 224.66L624.28 220.67L624.69 224.29L625.1 222.36L626.34 225.61L626.75 222.59L627.17 227.58L627.58 227.92L627.99 225.17L629.23 228.24L629.64 226.79L630.05 231.96L630.47 228.34L630.88 226.33L632.12 229.41L632.53 227.6L632.94 222.64L633.36 222.56L633.77 225.32L635.42 219.8L635.83 222.29L636.24 217.88L636.66 218.12L637.9 221.65L638.31 217.24L638.72 220.44L639.55 218.96L640.78 213.96L641.2 221.77L642.02 225.17L642.44 228.28L643.67 228.79L644.09 232.27L644.5 230.17L644.91 230.67L645.32 226.88L646.56 227.53L646.97 225.43L647.39 228.75L647.8 226L648.21 228.08L649.45 226.16L649.86 228.98L650.28 229.65L650.69 226.85L651.1 232.35L652.34 229.37L652.75 230.36L653.17 234.68L653.58 235.37L653.99 235.51L655.23 232.06L655.64 235.03L656.05 232.94L656.47 237.37L656.88 236.34L658.12 239.28L658.53 236.52L658.94 238.98L659.36 235.75L659.77 238.95L661.01 235.62L661.42 239.46L661.83 235.09L662.24 239.85L662.66 236.03L663.9 239.59L664.31 235.27L664.72 239.9L665.13 237.14L665.55 240.38L666.78 236.11L667.2 238.05L667.61 234.72L668.02 235.35L668.43 238.14L669.67 238.29L670.09 234.78L670.5 239.75L670.91 236.14L671.32 238.76L672.56 235L672.97 235.65L673.39 239.73L673.8 236.14L674.21 237.4L675.45 236.68L675.86 239.07L676.28 233.64L676.69 237.23L677.1 230.88L678.34 232.24L678.75 233.5L679.16 230.85L679.58 235.39L679.99 230.24L681.23 232.33L681.64 229.58L682.05 225.84L682.47 225.55L682.88 230.07L684.12 225L684.53 225.48L684.94 226.98L685.36 231.16L685.77 228.96L687.01 233.01L687.42 228.7L687.83 232.29L688.24 229.27L688.66 233.85L689.89 228.65L690.31 233.41L690.72 228.59L691.13 230.52L691.55 230.15L692.78 228.04L693.2 229.18L693.61 225.59L694.02 228L694.43 225.09L695.67 227.77L696.09 228.95L696.5 227.52L696.91 233.28L697.32 231.47L698.56 235.46L698.97 238.06L699.39 233.42L699.8 231.33L700.21 231.78L701.45 225.93L701.86 228.9L702.28 222.06L702.69 220.37L703.1 214.24L704.34 210.04L704.75 203.2L705.58 186.73L705.99 184.49L707.23 185.5L707.64 191.62L708.05 199.85L708.47 193.41L708.88 192.86L710.12 185.31L710.53 179.09L710.94 181.94L711.35 190.87L711.77 195.18L713.01 197.87L713.42 203.59L713.83 211.03L714.24 210.34L714.66 205.05L715.89 205.97L716.31 201.78L716.72 206.01L717.13 205.35L717.54 209.48L718.78 208.4L719.2 216.47L719.61 211.5L720.02 212.18L720.43 209.46L721.67 205.93L722.08 208.83L722.5 203.27L723.32 209.73L724.97 212.25L725.39 217.69L725.8 216.91L726.21 220.21L727.45 216.11L727.86 219.18L728.27 214.87L728.69 219.76L729.1 216.53L730.34 218.56L730.75 221.03L731.16 215.82L731.58 217.27L731.99 212.27L733.23 211.6L733.64 217.38L734.05 218.67L734.47 218.19L734.88 219.7L736.12 226.42L736.53 225.12L736.94 230.78L737.35 228.61L737.77 233.04L739 233.15L739.42 228.81L739.83 232.32L740.24 230.01L740.66 229.94L741.89 231.64L742.31 233.88L742.72 230.49L743.13 229.47L743.54 229.44L744.78 230.23L745.2 229.54L745.61 228.58L746.02 225.75L746.43 226.65L747.67 221.88L748.08 224.3L748.5 224.1L748.91 227.95L749.32 227.04L750.56 227.58L750.97 231.67L751.39 230.35L751.8 232.93L752.21 228.96L753.45 230.16L753.86 229.42L754.27 225.93L754.69 231.68L755.1 228.89L756.34 234.3L756.75 230.75L757.16 236.7L757.99 238.11L759.23 235.55L759.64 239.07L760.05 237.67L760.46 239.66L760.88 235.05L762.12 235.78L762.53 233.68L762.94 225.73L763.35 226.86L763.77 221.58L765 220.61L765.42 221.16L765.83 219.66L766.24 220L766.66 222.12L767.89 224.27L768.31 226.85L768.72 224.15L769.13 227.01L769.54 224.59L770.78 223.43L771.19 225.02L771.61 229.96L772.02 228.76L772.43 226.67L773.67 226.69L774.08 222.19L774.5 219.95L774.91 223.76L775.32 218.09L776.56 219.97L776.97 216.05L777.39 217.24L777.8 215.13L778.21 209.78L779.45 210L780.27 204.04L780.69 196.42L781.1 195.57L782.34 189.8L782.75 178.57L783.58 172.47L783.99 164.7L785.23 179.92L785.64 180.73L786.05 186.23L786.46 186.39L786.88 189.29L788.12 196.17L788.53 195.35L788.94 199.6L789.35 200.34L789.77 197.78L791 204.29L791.42 210.96L791.83 209.58L792.24 213.28L793.89 206.75L794.31 195.54L794.72 197.86L795.13 197.01L795.54 192.61L796.78 198.14L797.19 198.27L797.61 200.39L798.02 204.22L798.43 206.31L799.67 204.71L800.08 203.26L800.5 207.36L800.91 202.43L801.32 205.8L802.56 208.2L802.97 207.68L803.38 213.4L803.8 215.89L804.21 212.29L805.45 217.83L805.86 212.86L806.27 213.11L806.69 214.23L807.1 208.8L808.34 211.94L808.75 208.88L809.16 209.89L809.58 210.18L809.99 205.05L811.23 204.41L811.64 196.78L812.05 195.04L812.46 191.99L812.88 193.05L814.11 192.62L814.53 189.7L814.94 194.69L815.35 193.93L815.77 195.54L817 194.65L817.42 192.36L817.83 196.52L818.24 192.8L818.65 193.1L820.3 204.21L820.72 201.71L821.13 203.21L821.54 199.31L822.78 192.19L823.19 184.66L823.61 180.69L824.02 172.67L824.43 171.71L825.67 164.94L826.08 148.11L826.5 141.99L827.32 116.95L828.56 127.14L828.97 134.42L829.38 135.43L830.21 147.04L831.45 159.93L831.86 168.07L832.27 181.79L832.27 181.79" clip-path="url(#p3a8a4bb195)" style="fill: none; stroke: #ff0000; stroke-width: 2.083333; stroke-linecap: square"/>
</g>
<g id="line2d_27">
<path d="M832.69 166.3L906.97 221.64L983.32 230.37L1133.95 232.71" clip-path="url(#p3a8a4bb195)" style="fill: none; stroke: #0000ff; stroke-width: 2.083333; stroke-linecap: square"/>
</g>
<g id="patch_3">
<path d="M62.5 277.5L62.5 70.5" style="fill: none; stroke: #000000; stroke-width: 1.111111; stroke-linejoin: miter; stroke-linecap: square"/>
</g>
<g id="patch_4">
<path d="M1185.5 277.5L1185.5 70.5" style="fill: none; stroke: #000000; stroke-width: 1.111111; stroke-linejoin: miter; stroke-linecap: square"/>
</g>
<g id="patch_5">
<path d="M62.5 277.5L1185.5 277.5" style="fill: none; stroke: #000000; stroke-width: 1.111111; stroke-linejoin: miter; stroke-linecap: square"/>
</g>
<g id="patch_6">
<path d="M62.5 70.5L1185.5 70.5" style="fill: none; stroke: #000000; stroke-width: 1.111111; stroke-linejoin: miter; stroke-linecap: square"/>
</g>
<g id="text_15">
<text style="font-size: 16.666667px; font-family: 'DejaVu Sans', 'Liberation Sans', sans-serif; text-anchor: middle" x="623.45" y="61.5" textLength="690.3" lengthAdjust="spacing">powered by Predict-Price.com and MagicalPrediction.com and MagicalAnalysis.com</text>
</g>
<g id="legend_1">
<g id="patch_7">
<path d="M71.62 207.11L202.32 207.11Q205.1 207.11 205.1 204.33L205.1 80.06Q205.1 77.28 202.32 77.28L71.62 77.28Q68.85 77.28 68.85 80.06L68.85 204.33Q68.85 207.11 71.62 207.11z" style="fill: #ffffff; opacity: 0.8; stroke: #cccccc; stroke-width: 1.388889; stroke-linejoin: miter"/>
</g>
<g id="line2d_28">
<path d="M74 89L88 89L102 89" style="fill: none; stroke: #008000; stroke-width: 2.083333; stroke-linecap: square"/>
</g>
<g id="text_16">
<text style="font-size: 13.888889px; font-family: 'DejaVu Sans', 'Liberation Sans', sans-serif; text-anchor: start" x="113.29" y="93.83">High</text>
</g>
<g id="line2d_29">
<path d="M74 110L88 110L102 110" style="fill: none; stroke: #ff0000; stroke-width: 2.083333; stroke-linecap: square"/>
</g>
<g id="text_17">
<text style="font-size: 13.888889px; font-family: 'DejaVu Sans', 'Liberation Sans', sans-serif; text-anchor: start" x="113.29" y="114.78">Low</text>
</g>
<g id="line2d_30">
<path d="M74 131L88 131L102 131" style="fill: none; stroke: #0000ff; stroke-width: 2.083333; stroke-linecap: square"/>
</g>
<g id="text_18">
<text style="font-size: 13.888889px; font-family: 'DejaVu Sans', 'Liberation Sans', sans-serif; text-anchor: start" x="113.29" y="135.72">Close</text>
</g>
<g id="patch_8">
<path d="M74 157L102 157L102 147L74 147z" style="fill: #008000; fill-opacity: 0.25"/>
</g>
<g id="text_19">
<text style="font-size: 13.888889px; font-family: 'DejaVu Sans', 'Liberation Sans', sans-serif; text-anchor: start" x="113.29" y="156.67">High Range</text>
</g>
<g id="patch_9">
<path d="M74 178L102 178L102 168L74 168z" style="fill: #ff0000; fill-opacity: 0.25"/>
</g>
<g id="text_20">
<text style="font-size: 13.888889px; font-family: 'DejaVu Sans', 'Liberation Sans', sans-serif; text-anchor: start" x="113.29" y="177.61">Low Range</text>
</g>
<g id="patch_10">
<path d="M74 199L102 199L102 189L74 189z" style="fill: #0000ff; fill-opacity: 0.5"/>
</g>
<g id="text_21">
<text style="font-size: 13.888889px; font-family: 'DejaVu Sans', 'Liberation Sans', sans-serif; text-anchor: start" x="113.29" y="198.56">Close Range</text>
</g>
</g>
</g>
<g id="axes_2">
<g id="patch_11">
<path d="M62 542L1185 542L1185 335L62 335z" style="fill: #ffffff"/>
</g>
<g id="FillBetweenPolyCollection_4">
<path d="M112.95 402.22L112.95 430.9L364.71 467.22L623.45 488.86L1133.95 496.37L1133.95 373.54L1133.95 373.54L623.45 344.56L364.71 400.27L112.95 402.22z" clip-path="url(#p5d03193c63)" style="fill: #008000; fill-opacity: 0.25"/>
</g>
<g id="FillBetweenPolyCollection_5">
<path d="M112.95 409.02L112.95 432.68L364.71 509.68L623.45 526.71L1133.95 532.33L1133.95 500.69L1133.95 500.69L623.45 497.73L364.71 486.68L112.95 409.02z" clip-path="url(#p5d03193c63)" style="fill: #ff0000; fill-opacity: 0.25"/>
</g>
<g id="FillBetweenPolyCollection_6">
<path d="M112.95 403.7L112.95 438L364.71 486.68L623.45 497.73L1133.95 500.69L1133.95 496.37L1133.95 496.37L623.45 488.86L364.71 467.22L112.95 403.7z" clip-path="url(#p5d03193c63)" style="fill: #0000ff; fill-opacity: 0.5"/>
</g>
<g id="matplotlib.axis_3">
<g id="xtick_8">
<g id="line2d_31">
<path d="M180.5 542.5L180.5 335.5" clip-path="url(#p5d03193c63)" style="fill: none; stroke: #b0b0b0; stroke-width: 1.111111; stroke-linecap: square"/>
</g>
<g id="line2d_32">
<g>
<path d="M180.5 542.5L180.5 547.36" style="stroke: #000000; stroke-width: 1.111111"/>
</g>
</g>
<g id="text_22">
<text style="font-size: 13.888889px; font-family: 'DejaVu Sans', 'Liberation Sans', sans-serif; text-anchor: middle" x="180.09" y="562.44">2026-04</text>
</g>
</g>
<g id="xtick_9">
<g id="line2d_33">
<path d="M307.5 542.5L307.5 335.5" clip-path="url(#p5d03193c63)" style="fill: none; stroke: #b0b0b0; stroke-width: 1.111111; stroke-linecap: square"/>
</g>
<g id="line2d_34">
<g>
<path d="M307.5 542.5L307.5 547.36" style="stroke: #000000; stroke-width: 1.111111"/>
</g>
</g>
<g id="text_23">
<text style="font-size: 13.888889px; font-family: 'DejaVu Sans', 'Liberation Sans', sans-serif; text-anchor: middle" x="307.36" y="562.44">2026-07</text>
</g>
</g>
<g id="xtick_10">
<g id="line2d_35">
<path d="M436.5 542.5L436.5 335.5" clip-path="url(#p5d03193c63)" style="fill: none; stroke: #b0b0b0; stroke-width: 1.111111; stroke-linecap: square"/>
</g>
<g id="line2d_36">
<g>
<path d="M436.5 542.5L436.5 547.36" style="stroke: #000000; stroke-width: 1.111111"/>
</g>
</g>
<g id="text_24">
<text style="font-size: 13.888889px; font-family: 'DejaVu Sans', 'Liberation Sans', sans-serif; text-anchor: middle" x="436.04" y="562.44">2026-10</text>
</g>
</g>
<g id="xtick_11">
<g id="line2d_37">
<path d="M565.5 542.5L565.5 335.5" clip-path="url(#p5d03193c63)" style="fill: none; stroke: #b0b0b0; stroke-width: 1.111111; stroke-linecap: square"/>
</g>
<g id="line2d_38">
<g>
<path d="M565.5 542.5L565.5 547.36" style="stroke: #000000; stroke-width: 1.111111"/>
</g>
</g>
<g id="text_25">
<text style="font-size: 13.888889px; font-family: 'DejaVu Sans', 'Liberation Sans', sans-serif; text-anchor: middle" x="564.71" y="562.44">2027-01</text>
</g>
</g>
<g id="xtick_12">
<g id="line2d_39">
<path d="M691.5 542.5L691.5 335.5" clip-path="url(#p5d03193c63)" style="fill: none; stroke: #b0b0b0; stroke-width: 1.111111; stroke-linecap: square"/>
</g>
<g id="line2d_40">
<g>
<path d="M691.5 542.5L691.5 547.36" style="stroke: #000000; stroke-width: 1.111111"/>
</g>
</g>
<g id="text_26">
<text style="font-size: 13.888889px; font-family: 'DejaVu Sans', 'Liberation Sans', sans-serif; text-anchor: middle" x="690.59" y="562.44">2027-04</text>
</g>
</g>
<g id="xtick_13">
<g id="line2d_41">
<path d="M818.5 542.5L818.5 335.5" clip-path="url(#p5d03193c63)" style="fill: none; stroke: #b0b0b0; stroke-width: 1.111111; stroke-linecap: square"/>
</g>
<g id="line2d_42">
<g>
<path d="M818.5 542.5L818.5 547.36" style="stroke: #000000; stroke-width: 1.111111"/>
</g>
</g>
<g id="text_27">
<text style="font-size: 13.888889px; font-family: 'DejaVu Sans', 'Liberation Sans', sans-serif; text-anchor: middle" x="817.86" y="562.44">2027-07</text>
</g>
</g>
<g id="xtick_14">
<g id="line2d_43">
<path d="M947.5 542.5L947.5 335.5" clip-path="url(#p5d03193c63)" style="fill: none; stroke: #b0b0b0; stroke-width: 1.111111; stroke-linecap: square"/>
</g>
<g id="line2d_44">
<g>
<path d="M947.5 542.5L947.5 547.36" style="stroke: #000000; stroke-width: 1.111111"/>
</g>
</g>
<g id="text_28">
<text style="font-size: 13.888889px; font-family: 'DejaVu Sans', 'Liberation Sans', sans-serif; text-anchor: middle" x="946.53" y="562.44">2027-10</text>
</g>
</g>
<g id="xtick_15">
<g id="line2d_45">
<path d="M1075.5 542.5L1075.5 335.5" clip-path="url(#p5d03193c63)" style="fill: none; stroke: #b0b0b0; stroke-width: 1.111111; stroke-linecap: square"/>
</g>
<g id="line2d_46">
<g>
<path d="M1075.5 542.5L1075.5 547.36" style="stroke: #000000; stroke-width: 1.111111"/>
</g>
</g>
<g id="text_29">
<text style="font-size: 13.888889px; font-family: 'DejaVu Sans', 'Liberation Sans', sans-serif; text-anchor: middle" x="1075.21" y="562.44">2028-01</text>
</g>
</g>
<g id="text_30">
<text style="font-size: 13.888889px; font-family: 'DejaVu Sans', 'Liberation Sans', sans-serif; text-anchor: middle" x="623.45" y="582">Date</text>
</g>
</g>
<g id="matplotlib.axis_4">
<g id="ytick_6">
<g id="line2d_47">
<path d="M62.5 536.5L1185.5 536.5" clip-path="url(#p5d03193c63)" style="fill: none; stroke: #b0b0b0; stroke-width: 1.111111; stroke-linecap: square"/>
</g>
<g id="line2d_48">
<g>
<path d="M62.5 536.5L57.64 536.5" style="stroke: #000000; stroke-width: 1.111111"/>
</g>
</g>
<g id="text_31">
<text style="font-size: 13.888889px; font-family: 'DejaVu Sans', 'Liberation Sans', sans-serif; text-anchor: end" x="52.18" y="541.68">10</text>
</g>
</g>
<g id="ytick_7">
<g id="line2d_49">
<path d="M62.5 507.5L1185.5 507.5" clip-path="url(#p5d03193c63)" style="fill: none; stroke: #b0b0b0; stroke-width: 1.111111; stroke-linecap: square"/>
</g>
<g id="line2d_50">
<g>
<path d="M62.5 507.5L57.64 507.5" style="stroke: #000000; stroke-width: 1.111111"/>
</g>
</g>
<g id="text_32">
<text style="font-size: 13.888889px; font-family: 'DejaVu Sans', 'Liberation Sans', sans-serif; text-anchor: end" x="52.18" y="512.11">15</text>
</g>
</g>
<g id="ytick_8">
<g id="line2d_51">
<path d="M62.5 477.5L1185.5 477.5" clip-path="url(#p5d03193c63)" style="fill: none; stroke: #b0b0b0; stroke-width: 1.111111; stroke-linecap: square"/>
</g>
<g id="line2d_52">
<g>
<path d="M62.5 477.5L57.64 477.5" style="stroke: #000000; stroke-width: 1.111111"/>
</g>
</g>
<g id="text_33">
<text style="font-size: 13.888889px; font-family: 'DejaVu Sans', 'Liberation Sans', sans-serif; text-anchor: end" x="52.18" y="482.53">20</text>
</g>
</g>
<g id="ytick_9">
<g id="line2d_53">
<path d="M62.5 447.5L1185.5 447.5" clip-path="url(#p5d03193c63)" style="fill: none; stroke: #b0b0b0; stroke-width: 1.111111; stroke-linecap: square"/>
</g>
<g id="line2d_54">
<g>
<path d="M62.5 447.5L57.64 447.5" style="stroke: #000000; stroke-width: 1.111111"/>
</g>
</g>
<g id="text_34">
<text style="font-size: 13.888889px; font-family: 'DejaVu Sans', 'Liberation Sans', sans-serif; text-anchor: end" x="52.18" y="452.96">25</text>
</g>
</g>
<g id="ytick_10">
<g id="line2d_55">
<path d="M62.5 418.5L1185.5 418.5" clip-path="url(#p5d03193c63)" style="fill: none; stroke: #b0b0b0; stroke-width: 1.111111; stroke-linecap: square"/>
</g>
<g id="line2d_56">
<g>
<path d="M62.5 418.5L57.64 418.5" style="stroke: #000000; stroke-width: 1.111111"/>
</g>
</g>
<g id="text_35">
<text style="font-size: 13.888889px; font-family: 'DejaVu Sans', 'Liberation Sans', sans-serif; text-anchor: end" x="52.18" y="423.39">30</text>
</g>
</g>
<g id="ytick_11">
<g id="line2d_57">
<path d="M62.5 388.5L1185.5 388.5" clip-path="url(#p5d03193c63)" style="fill: none; stroke: #b0b0b0; stroke-width: 1.111111; stroke-linecap: square"/>
</g>
<g id="line2d_58">
<g>
<path d="M62.5 388.5L57.64 388.5" style="stroke: #000000; stroke-width: 1.111111"/>
</g>
</g>
<g id="text_36">
<text style="font-size: 13.888889px; font-family: 'DejaVu Sans', 'Liberation Sans', sans-serif; text-anchor: end" x="52.18" y="393.82">35</text>
</g>
</g>
<g id="ytick_12">
<g id="line2d_59">
<path d="M62.5 359.5L1185.5 359.5" clip-path="url(#p5d03193c63)" style="fill: none; stroke: #b0b0b0; stroke-width: 1.111111; stroke-linecap: square"/>
</g>
<g id="line2d_60">
<g>
<path d="M62.5 359.5L57.64 359.5" style="stroke: #000000; stroke-width: 1.111111"/>
</g>
</g>
<g id="text_37">
<text style="font-size: 13.888889px; font-family: 'DejaVu Sans', 'Liberation Sans', sans-serif; text-anchor: end" x="52.18" y="364.25">40</text>
</g>
</g>
<g id="text_38">
<text style="font-size: 13.888889px; font-family: 'DejaVu Sans', 'Liberation Sans', sans-serif; text-anchor: middle" x="26" y="441.64" transform="rotate(-90 26 441.64)">Price</text>
</g>
</g>
<g id="line2d_61"/>
<g id="line2d_62"/>
<g id="line2d_63">
<path d="M112.95 416.59L364.71 486.68L623.45 497.73L1133.95 500.69" clip-path="url(#p5d03193c63)" style="fill: none; stroke: #0000ff; stroke-width: 2.083333; stroke-linecap: square"/>
</g>
<g id="patch_12">
<path d="M62.5 542.5L62.5 335.5" style="fill: none; stroke: #000000; stroke-width: 1.111111; stroke-linejoin: miter; stroke-linecap: square"/>
</g>
<g id="patch_13">
<path d="M1185.5 542.5L1185.5 335.5" style="fill: none; stroke: #000000; stroke-width: 1.111111; stroke-linejoin: miter; stroke-linecap: square"/>
</g>
<g id="patch_14">
<path d="M62.5 542.5L1185.5 542.5" style="fill: none; stroke: #000000; stroke-width: 1.111111; stroke-linejoin: miter; stroke-linecap: square"/>
</g>
<g id="patch_15">
<path d="M62.5 335.5L1185.5 335.5" style="fill: none; stroke: #000000; stroke-width: 1.111111; stroke-linejoin: miter; stroke-linecap: square"/>
</g>
<g id="legend_2">
<g id="patch_16">
<path d="M71.62 471.94L202.32 471.94Q205.1 471.94 205.1 469.17L205.1 344.89Q205.1 342.11 202.32 342.11L71.62 342.11Q68.85 342.11 68.85 344.89L68.85 469.17Q68.85 471.94 71.62 471.94z" style="fill: #ffffff; opacity: 0.8; stroke: #cccccc; stroke-width: 1.388889; stroke-linejoin: miter"/>
</g>
<g id="line2d_64">
<path d="M74 354L88 354L102 354" style="fill: none; stroke: #008000; stroke-width: 2.083333; stroke-linecap: square"/>
</g>
<g id="text_39">
<text style="font-size: 13.888889px; font-family: 'DejaVu Sans', 'Liberation Sans', sans-serif; text-anchor: start" x="113.29" y="358.67">High</text>
</g>
<g id="line2d_65">
<path d="M74 375L88 375L102 375" style="fill: none; stroke: #ff0000; stroke-width: 2.083333; stroke-linecap: square"/>
</g>
<g id="text_40">
<text style="font-size: 13.888889px; font-family: 'DejaVu Sans', 'Liberation Sans', sans-serif; text-anchor: start" x="113.29" y="379.61">Low</text>
</g>
<g id="line2d_66">
<path d="M74 396L88 396L102 396" style="fill: none; stroke: #0000ff; stroke-width: 2.083333; stroke-linecap: square"/>
</g>
<g id="text_41">
<text style="font-size: 13.888889px; font-family: 'DejaVu Sans', 'Liberation Sans', sans-serif; text-anchor: start" x="113.29" y="400.56">Close</text>
</g>
<g id="patch_17">
<path d="M74 422L102 422L102 412L74 412z" style="fill: #008000; fill-opacity: 0.25"/>
</g>
<g id="text_42">
<text style="font-size: 13.888889px; font-family: 'DejaVu Sans', 'Liberation Sans', sans-serif; text-anchor: start" x="113.29" y="421.5">High Range</text>
</g>
<g id="patch_18">
<path d="M74 442L102 442L102 433L74 433z" style="fill: #ff0000; fill-opacity: 0.25"/>
</g>
<g id="text_43">
<text style="font-size: 13.888889px; font-family: 'DejaVu Sans', 'Liberation Sans', sans-serif; text-anchor: start" x="113.29" y="442.44">Low Range</text>
</g>
<g id="patch_19">
<path d="M74 463L102 463L102 454L74 454z" style="fill: #0000ff; fill-opacity: 0.5"/>
</g>
<g id="text_44">
<text style="font-size: 13.888889px; font-family: 'DejaVu Sans', 'Liberation Sans', sans-serif; text-anchor: start" x="113.29" y="463.39">Close Range</text>
</g>
</g>
</g>
<g id="text_45">
<text style="font-size: 16.666667px; font-family: 'DejaVu Sans', 'Liberation Sans', sans-serif; text-anchor: middle" x="600" y="25.5" textLength="735.1" lengthAdjust="spacing">CBOE Gold Volatitity Index (^GVZ) long term price prediction : 2026,2027,2028 (Feb 12)</text>
</g>
<g id="text_46">
<text style="font-size: 41.666667px; font-family: 'DejaVu Sans', 'Liberation Sans', sans-serif; text-anchor: middle; fill: #808080; opacity: 0.1" x="399" y="160.7">Predict-Price.com</text>
</g>
<g id="text_47">
<text style="font-size: 41.666667px; font-family: 'DejaVu Sans', 'Liberation Sans', sans-serif; text-anchor: middle; fill: #808080; opacity: 0.1" x="399" y="310.7">Predict-Price.com</text>
</g>
<g id="text_48">
<text style="font-size: 41.666667px; font-family: 'DejaVu Sans', 'Liberation Sans', sans-serif; text-anchor: middle; fill: #808080; opacity: 0.1" x="399" y="460.7">Predict-Price.com</text>
</g>
<g id="text_49">
<text style="font-size: 41.666667px; font-family: 'DejaVu Sans', 'Liberation Sans', sans-serif; text-anchor: middle; fill: #808080; opacity: 0.1" x="801" y="160.7">Predict-Price.com</text>
</g>
<g id="text_50">
<text style="font-size: 41.666667px; font-family: 'DejaVu Sans', 'Liberation Sans', sans-serif; text-anchor: middle; fill: #808080; opacity: 0.1" x="801" y="310.7">Predict-Price.com</text>
</g>
<g id="text_51">
<text style="font-size: 41.666667px; font-family: 'DejaVu Sans', 'Liberation Sans', sans-serif; text-anchor: middle; fill: #808080; opacity: 0.1" x="801" y="460.7">Predict-Price.com</text>
</g>
</g>
<defs>
<clipPath id="p3a8a4bb195">
<rect x="61.9" y="70.33" width="1123.097222" height="206.555556"/>
</clipPath>
<clipPath id="p5d03193c63">
<rect x="61.9" y="335.17" width="1123.097222" height="206.555556"/>
</clipPath>
</defs>
</svg>

</body></html>
